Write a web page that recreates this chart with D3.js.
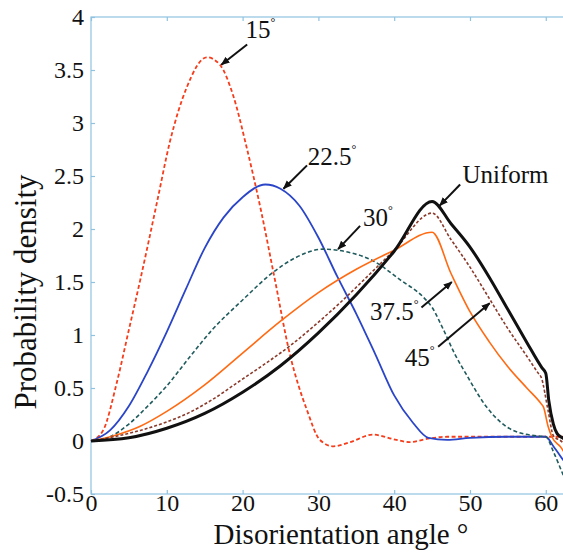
<!DOCTYPE html>
<html>
<head>
<meta charset="utf-8">
<script src="https://cdn.jsdelivr.net/npm/d3@7"></script>
</head>
<body style="margin:0">
<svg id="chart" width="563" height="552" font-family="Liberation Serif"></svg>
<script>
// Data: [angle in degrees, probability density]
const uniform = [[0,0],[5,0.03],[10,0.12],[15,0.26],[20,0.46],[25,0.71],[30,1.02],[35,1.38],[40,1.79],[45,2.26],
  [47.5,2.05],[50,1.83],[52.5,1.55],[55,1.24],[57.5,0.93],[59.5,0.69],[60,0.64],[60.4,0.38],[61,0.16],[61.5,0.07],[62.2,0.03],[62.8,0.0]];
const s45 = [[0,0],[3,0.04],[6.5,0.10],[10,0.18],[13,0.27],[16,0.39],[19.7,0.57],[23,0.73],[26.3,0.90],[29.5,1.09],[32.8,1.30],
  [36,1.52],[40,1.80],[45,2.15],[47.5,1.90],[50,1.64],[52.5,1.35],[55,1.06],[57.5,0.80],[59,0.64],[59.4,0.60],[60.3,0.29],[61,0.05],[62,0.0],[62.8,-0.05]];
const s375 = [[0,0],[3,0.05],[6.5,0.14],[10,0.28],[15,0.53],[20,0.83],[25,1.13],[30,1.40],[35,1.62],[40,1.80],[45,1.97],
  [47.5,1.58],[50,1.22],[52.5,0.94],[55,0.70],[57.5,0.50],[59.4,0.35],[59.7,0.32],[60.3,0.14],[60.8,0.04],[62,-0.06],[62.8,-0.15]];
const s30 = [[0,0],[2.5,0.04],[5,0.16],[7.5,0.33],[10,0.52],[13,0.79],[16,1.05],[20,1.33],[24,1.59],[27,1.73],[30.6,1.81],[34,1.78],
  [37.2,1.70],[40.8,1.52],[43.8,1.36],[45,1.26],[46.5,1.05],[48,0.82],[49.5,0.63],[52.2,0.32],[55.7,0.10],[59.2,0.045],[60,0.04],[61,-0.1],[62.3,-0.32],[62.8,-0.4]];
const s225 = [[0,0],[2.5,0.10],[5,0.33],[7.5,0.66],[10,1.03],[12.5,1.43],[15,1.82],[17.5,2.11],[20,2.30],[23,2.42],[25,2.38],[27.5,2.22],
  [30,1.92],[32.5,1.55],[35,1.20],[37.5,0.82],[40,0.43],[42.5,0.17],[44.5,0.03],[47,0.01],[50,0.03],[55,0.04],[60,0.04],[61,-0.05],[62.3,-0.18],[62.8,-0.23]];
const s15 = [[0,0],[1.6,0.10],[3.4,0.55],[5,1.05],[6.5,1.52],[8.7,2.25],[10.4,2.82],[12.6,3.33],[15.3,3.62],[17,3.55],[18.8,3.25],[20.5,2.78],
  [22.5,2.15],[24.1,1.58],[26.3,0.80],[28.5,0.29],[30.2,0.01],[32,-0.05],[34.2,-0.01],[37.2,0.06],[40.3,0.01],[42,-0.01],[44.7,0.025],[47,0.04],[60,0.04],[62.8,0.04]];

const xTicks = [0, 10, 20, 30, 40, 50, 60];
const yTicks = [-0.5, 0, 0.5, 1, 1.5, 2, 2.5, 3, 3.5, 4];

const series = [
  {name: "15", data: s15, color: "#f53d1c", width: 1.8, dash: "4,2.5"},
  {name: "22.5", data: s225, color: "#2a45c8", width: 1.8, dash: null},
  {name: "30", data: s30, color: "#1f5a5c", width: 1.6, dash: "4,2.5"},
  {name: "37.5", data: s375, color: "#ff6a12", width: 1.6, dash: null},
  {name: "45", data: s45, color: "#8a3b2c", width: 1.6, dash: "3,2"},
  {name: "Uniform", data: uniform, color: "#111", width: 3, dash: null}
];

// Labels with arrows: text position, arrow tail and head (in data units)
const labels = [
  {text: "15", deg: true, at: [20.4, 3.8], tail: [20.6, 3.74], head: [17.2, 3.55]},
  {text: "22.5", deg: true, at: [28.6, 2.6], tail: [28.5, 2.6], head: [25.4, 2.38]},
  {text: "30", deg: true, at: [35.9, 2.03], tail: [35.5, 2.03], head: [32.6, 1.81]},
  {text: "Uniform", deg: false, at: [49, 2.43], tail: [48.7, 2.42], head: [46, 2.22]},
  {text: "37.5", deg: true, at: [36.8, 1.14], tail: [43.6, 1.26], head: [47.6, 1.5]},
  {text: "45", deg: true, at: [41.4, 0.71], tail: [45.8, 0.89], head: [52.6, 1.3]}
];

const W = 563, H = 552;
const M = {top: 17, right: -4, bottom: 58, left: 91};

const svg = d3.select("#chart");

// serif face on every text element
const serif = sel => sel
  .attr("font-family", "Liberation Serif")
  .style("font-family", "'Liberation Serif'");

const x = d3.scaleLinear().domain([0, 62.8]).range([M.left, W - M.right]);
const y = d3.scaleLinear().domain([-0.5, 4]).range([H - M.bottom, M.top]);

const axisColor = "#8fc3e0";

svg.append("defs").append("marker")
  .attr("id", "arrow")
  .attr("viewBox", "0 0 10 10")
  .attr("refX", 9).attr("refY", 5)
  .attr("markerWidth", 9).attr("markerHeight", 9)
  .attr("markerUnits", "userSpaceOnUse")
  .attr("orient", "auto")
  .append("path")
  .attr("d", "M0,1 L10,5 L0,9 Z")
  .attr("fill", "#111");

// Frame
svg.append("rect")
  .attr("x", x(0)).attr("y", y(4))
  .attr("width", x(62.8) - x(0)).attr("height", y(-0.5) - y(4))
  .attr("fill", "none").attr("stroke", axisColor).attr("stroke-width", 1.2);

// Axes with inward ticks
const gx = svg.append("g")
  .attr("transform", `translate(0,${y(-0.5)})`)
  .call(d3.axisBottom(x).tickValues(xTicks).tickSize(-4).tickPadding(3).tickFormat(d3.format("d")));
const gxTop = svg.append("g")
  .attr("transform", `translate(0,${y(4)})`)
  .call(d3.axisTop(x).tickValues(xTicks).tickSize(-4).tickFormat(""));
const gy = svg.append("g")
  .attr("transform", `translate(${x(0)},0)`)
  .call(d3.axisLeft(y).tickValues(yTicks).tickSize(-4).tickPadding(7).tickFormat(d => String(d)));
const gyRight = svg.append("g")
  .attr("transform", `translate(${x(62.8)},0)`)
  .call(d3.axisRight(y).tickValues(yTicks).tickSize(-4).tickFormat(""));

[gx, gxTop, gy, gyRight].forEach(g => {
  g.attr("font-family", "Liberation Serif").attr("font-size", 24);
  g.select(".domain").remove();
  g.selectAll(".tick line").attr("stroke", axisColor).attr("stroke-width", 1.2);
  g.selectAll(".tick text")
    .attr("fill", "#111")
    .attr("font-size", 24)
    .call(serif);
});
gx.selectAll(".tick text").attr("dy", "0.6em");
gy.selectAll(".tick text").attr("dy", "0.33em");

// Curves
const line = d3.line()
  .x(d => x(d[0]))
  .y(d => y(d[1]))
  .curve(d3.curveMonotoneX);

svg.append("g")
  .selectAll("path")
  .data(series)
  .join("path")
  .attr("d", d => line(d.data))
  .attr("fill", "none")
  .attr("stroke", d => d.color)
  .attr("stroke-width", d => d.width)
  .attr("stroke-dasharray", d => d.dash)
  .attr("stroke-linejoin", "round");

// Annotation arrows
svg.append("g")
  .selectAll("line")
  .data(labels)
  .join("line")
  .attr("x1", d => x(d.tail[0])).attr("y1", d => y(d.tail[1]))
  .attr("x2", d => x(d.head[0])).attr("y2", d => y(d.head[1]))
  .attr("stroke", "#111")
  .attr("stroke-width", 2)
  .attr("marker-end", "url(#arrow)");

const lab = svg.append("g")
  .selectAll("text")
  .data(labels)
  .join("text")
  .attr("x", d => x(d.at[0]))
  .attr("y", d => y(d.at[1]))
  .attr("font-size", 25)
  .attr("fill", "#111")
  .call(serif);
lab.append("tspan").text(d => d.text);
lab.filter(d => d.deg).append("tspan")
  .attr("dy", -12)
  .attr("font-size", 12)
  .text("°");

// Axis titles
svg.append("text")
  .attr("x", 341)
  .attr("y", 544)
  .attr("text-anchor", "middle")
  .attr("font-size", 29)
  .attr("fill", "#111")
  .call(serif)
  .text("Disorientation angle °");

svg.append("text")
  .attr("transform", "rotate(-90)")
  .attr("x", -292)
  .attr("y", 36)
  .attr("text-anchor", "middle")
  .attr("font-size", 31)
  .attr("fill", "#111")
  .call(serif)
  .text("Probability density");
</script>
</body>
</html>
